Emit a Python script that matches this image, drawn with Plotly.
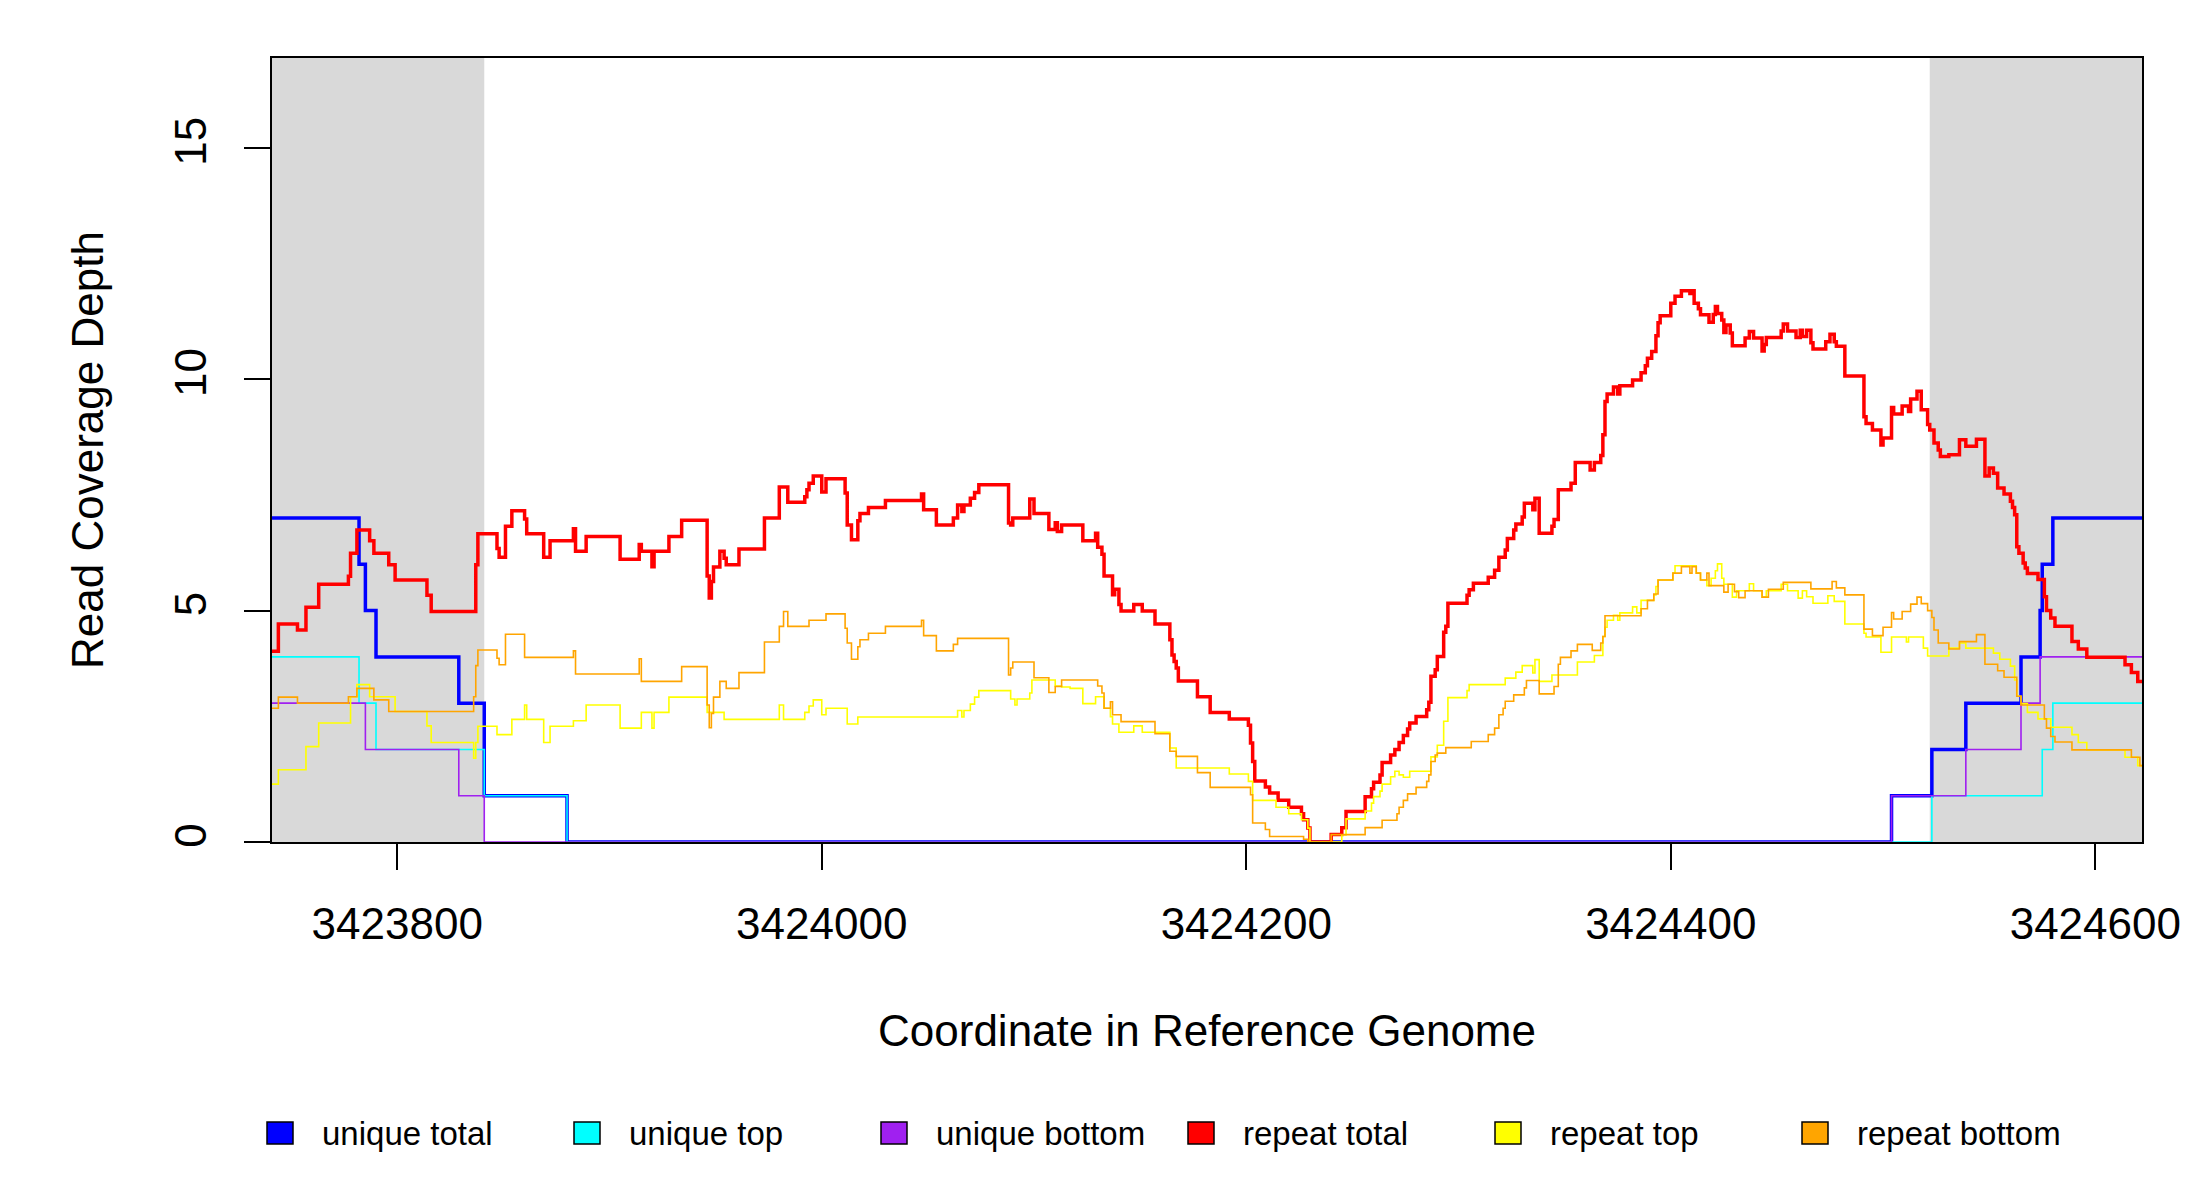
import plotly.graph_objects as go

# coverage steps: each value holds from its position up to the next position
region_start = 3423741
region_end = 3424622
flank_start = [3423741, 3424522]
flank_end = [3423841, 3424622]

ut_pos = [3423741, 3423782, 3423785, 3423790, 3423829, 3423841, 3423880,
          3424504, 3424523, 3424539, 3424565, 3424574, 3424575, 3424580]
ut_depth = [7, 6, 5, 4, 3, 1, 0, 1, 2, 3, 4, 5, 6, 7]

utop_pos = [3423741, 3423782, 3423790, 3423841, 3423880, 3424523, 3424575, 3424580]
utop_depth = [4, 3, 2, 1, 0, 1, 2, 3]

ubot_pos = [3423741, 3423785, 3423829, 3423841, 3424504, 3424539, 3424565, 3424574]
ubot_depth = [3, 2, 1, 0, 1, 2, 3, 4]

rt_pos = [3423741, 3423744, 3423753, 3423757, 3423763, 3423777, 3423778, 3423781,
          3423787, 3423789, 3423796, 3423799, 3423814, 3423816, 3423837, 3423838,
          3423847, 3423848, 3423851, 3423854, 3423860, 3423861, 3423869, 3423872,
          3423883, 3423884, 3423889, 3423905, 3423914, 3423915, 3423920, 3423921,
          3423928, 3423934, 3423946, 3423947, 3423948, 3423949, 3423952, 3423954,
          3423955, 3423961, 3423973, 3423980, 3423984, 3423992, 3423993, 3423994,
          3423996, 3424000, 3424002, 3424011, 3424012, 3424014, 3424017, 3424018,
          3424022, 3424030, 3424047, 3424048, 3424054, 3424062, 3424064, 3424066,
          3424067, 3424070, 3424072, 3424074, 3424088, 3424089, 3424090, 3424098,
          3424100, 3424107, 3424110, 3424111, 3424113, 3424123, 3424129, 3424130,
          3424132, 3424133, 3424137, 3424138, 3424140, 3424141, 3424147, 3424151,
          3424157, 3424164, 3424165, 3424166, 3424167, 3424168, 3424177, 3424183,
          3424192, 3424201, 3424202, 3424203, 3424204, 3424209, 3424211, 3424215,
          3424220, 3424226, 3424227, 3424229, 3424230, 3424240, 3424245, 3424247,
          3424256, 3424259, 3424260, 3424263, 3424264, 3424268, 3424270, 3424272,
          3424274, 3424276, 3424277, 3424280, 3424285, 3424286, 3424287, 3424289,
          3424290, 3424293, 3424294, 3424295, 3424304, 3424305, 3424307, 3424314,
          3424317, 3424319, 3424322, 3424323, 3424326, 3424327, 3424330, 3424331,
          3424335, 3424336, 3424338, 3424344, 3424345, 3424347, 3424353, 3424355,
          3424362, 3424364, 3424367, 3424368, 3424369, 3424370, 3424373, 3424375,
          3424376, 3424382, 3424386, 3424388, 3424389, 3424391, 3424393, 3424394,
          3424395, 3424400, 3424402, 3424405, 3424409, 3424410, 3424411, 3424413,
          3424414, 3424418, 3424420, 3424421, 3424422, 3424424, 3424425, 3424426,
          3424428, 3424429, 3424435, 3424437, 3424439, 3424443, 3424444, 3424445,
          3424452, 3424453, 3424455, 3424459, 3424461, 3424462, 3424464, 3424466,
          3424467, 3424473, 3424475, 3424477, 3424478, 3424482, 3424491, 3424492,
          3424495, 3424499, 3424500, 3424504, 3424505, 3424509, 3424512, 3424513,
          3424516, 3424518, 3424521, 3424522, 3424524, 3424526, 3424527, 3424531,
          3424536, 3424539, 3424544, 3424548, 3424550, 3424552, 3424554, 3424557,
          3424560, 3424561, 3424562, 3424563, 3424564, 3424566, 3424567, 3424568,
          3424573, 3424576, 3424577, 3424579, 3424581, 3424589, 3424592, 3424596,
          3424614, 3424617, 3424620]
rt_depth = [4.12, 4.71, 4.58, 5.07, 5.57, 5.74, 6.24, 6.74,
            6.51, 6.24, 5.99, 5.66, 5.33, 4.98, 5.99, 6.66,
            6.34, 6.15, 6.82, 7.16, 6.98, 6.66, 6.15, 6.51,
            6.77, 6.28, 6.6, 6.11, 6.43, 6.28, 5.95, 6.28,
            6.6, 6.95, 5.75, 5.27, 5.63, 5.94, 6.28, 6.13,
            5.99, 6.33, 7.0, 7.67, 7.34, 7.46, 7.61, 7.75,
            7.91, 7.56, 7.85, 7.54, 6.85, 6.53, 6.94, 7.1,
            7.23, 7.38, 7.52, 7.18, 6.85, 7.0, 7.28, 7.14,
            7.28, 7.43, 7.55, 7.72, 6.89, 6.85, 7.0, 7.41,
            7.1, 6.75, 6.9, 6.71, 6.85, 6.51, 6.67, 6.37,
            6.22, 5.75, 5.34, 5.46, 5.13, 4.99, 5.13, 4.99,
            4.71, 4.37, 4.04, 3.9, 3.76, 3.48, 3.14, 2.8,
            2.66, 2.52, 2.14, 1.74, 1.32, 1.19, 1.06, 0.9,
            0.75, 0.61, 0.48, 0.3, 0, 0.16, 0.31, 0.66,
            0.98, 1.15, 1.29, 1.45, 1.72, 1.88, 2.0, 2.15,
            2.3, 2.44, 2.57, 2.71, 2.86, 3.02, 3.58, 3.72,
            4.01, 4.53, 4.66, 5.16, 5.33, 5.45, 5.59, 5.72,
            5.87, 6.15, 6.31, 6.56, 6.74, 6.87, 7.02, 7.32,
            7.18, 7.43, 6.67, 6.82, 6.97, 7.61, 7.75, 8.2,
            8.04, 8.2, 8.35, 8.8, 9.52, 9.68, 9.83, 9.68,
            9.86, 9.98, 10.14, 10.29, 10.45, 10.6, 10.94, 11.22,
            11.37, 11.64, 11.79, 11.91, 11.85, 11.91, 11.64, 11.52,
            11.39, 11.23, 11.4, 11.57, 11.42, 11.28, 11.01, 11.17,
            11.0, 10.72, 10.89, 11.03, 10.89, 10.61, 10.75, 10.9,
            11.04, 11.19, 11.04, 10.9, 11.06, 10.92, 11.06, 10.79,
            10.65, 10.81, 10.97, 10.81, 10.71, 10.07, 9.19, 9.04,
            8.9, 8.58, 8.73, 9.39, 9.25, 9.42, 9.3, 9.57,
            9.74, 9.34, 9.02, 8.9, 8.62, 8.47, 8.33, 8.37,
            8.69, 8.55, 8.7, 7.91, 8.08, 7.97, 7.65, 7.52,
            7.36, 7.23, 7.07, 6.38, 6.24, 6.03, 5.92, 5.8,
            5.67, 5.3, 5.0, 4.84, 4.66, 4.33, 4.17, 3.99,
            3.83, 3.66, 3.47]

rtop_pos = [3423741, 3423744, 3423757, 3423763, 3423778, 3423781, 3423787, 3423799,
            3423814, 3423816, 3423836, 3423837, 3423838, 3423847, 3423854, 3423860,
            3423861, 3423869, 3423872, 3423883, 3423889, 3423905, 3423915, 3423920,
            3423921, 3423928, 3423946, 3423954, 3423980, 3423982, 3423992, 3423994,
            3423996, 3424000, 3424002, 3424012, 3424017, 3424064, 3424066, 3424067,
            3424070, 3424072, 3424074, 3424089, 3424091, 3424092, 3424098, 3424099,
            3424110, 3424113, 3424117, 3424123, 3424129, 3424133, 3424136, 3424137,
            3424140, 3424147, 3424151, 3424164, 3424167, 3424192, 3424201, 3424203,
            3424214, 3424220, 3424226, 3424229, 3424230, 3424245, 3424247, 3424256,
            3424259, 3424260, 3424263, 3424264, 3424268, 3424270, 3424272, 3424274,
            3424277, 3424287, 3424290, 3424293, 3424295, 3424304, 3424305, 3424322,
            3424327, 3424330, 3424335, 3424336, 3424338, 3424344, 3424356, 3424364,
            3424368, 3424369, 3424370, 3424373, 3424375, 3424376, 3424382, 3424384,
            3424386, 3424392, 3424393, 3424394, 3424401, 3424402, 3424412, 3424414,
            3424417, 3424419, 3424421, 3424422, 3424424, 3424425, 3424429, 3424431,
            3424437, 3424439, 3424443, 3424445, 3424452, 3424455, 3424460, 3424462,
            3424464, 3424467, 3424474, 3424477, 3424482, 3424491, 3424492, 3424499,
            3424504, 3424511, 3424512, 3424519, 3424521, 3424531, 3424536, 3424539,
            3424552, 3424555, 3424560, 3424562, 3424563, 3424565, 3424568, 3424573,
            3424579, 3424589, 3424592, 3424596, 3424614, 3424620]
rtop_depth = [1.25, 1.56, 2.06, 2.57, 3.14, 3.4, 3.14, 2.82,
              2.51, 2.15, 1.81, 2.15, 2.5, 2.32, 2.65, 2.96,
              2.65, 2.15, 2.5, 2.62, 2.96, 2.46, 2.8, 2.46,
              2.8, 3.13, 2.8, 2.65, 2.96, 2.65, 2.8, 2.94,
              3.07, 2.75, 2.89, 2.55, 2.7, 2.84, 2.7, 2.84,
              2.98, 3.13, 3.27, 3.09, 2.96, 3.09, 3.22, 3.5,
              3.37, 3.35, 3.32, 2.99, 3.14, 2.89, 2.71, 2.55,
              2.37, 2.51, 2.37, 2.03, 1.6, 1.47, 1.31, 0.9,
              0.75, 0.61, 0.48, 0.3, 0, 0.15, 0.5, 0.67,
              0.84, 0.98, 1.1, 1.25, 1.41, 1.53, 1.45, 1.4,
              1.53, 1.84, 2.09, 2.61, 3.12, 3.27, 3.4, 3.54,
              3.67, 3.81, 3.65, 3.94, 3.47, 3.61, 3.89, 4.03,
              4.44, 4.64, 4.79, 4.9, 4.79, 4.95, 5.08, 4.95,
              5.22, 5.34, 5.52, 5.66, 5.81, 5.97, 5.81, 5.66,
              5.54, 5.7, 5.86, 6.01, 5.7, 5.57, 5.29, 5.43,
              5.58, 5.43, 5.29, 5.43, 5.57, 5.43, 5.27, 5.43,
              5.3, 5.16, 5.32, 5.2, 4.71, 4.51, 4.43, 4.1,
              4.43, 4.32, 4.43, 4.19, 4.02, 4.19, 4.3, 4.19,
              4.08, 3.95, 3.8, 3.5, 3.15, 2.99, 2.8, 2.66,
              2.48, 2.32, 2.15, 1.99, 1.83, 1.65]

rbot_pos = [3423741, 3423744, 3423753, 3423777, 3423781, 3423789, 3423796, 3423836,
            3423837, 3423838, 3423847, 3423848, 3423851, 3423860, 3423883, 3423884,
            3423914, 3423915, 3423934, 3423946, 3423947, 3423948, 3423949, 3423952,
            3423955, 3423961, 3423973, 3423980, 3423982, 3423984, 3423994, 3424002,
            3424011, 3424012, 3424014, 3424017, 3424018, 3424022, 3424030, 3424047,
            3424048, 3424054, 3424062, 3424064, 3424088, 3424089, 3424090, 3424100,
            3424107, 3424110, 3424113, 3424130, 3424132, 3424133, 3424136, 3424137,
            3424141, 3424157, 3424164, 3424167, 3424177, 3424183, 3424202, 3424203,
            3424209, 3424211, 3424227, 3424229, 3424240, 3424256, 3424264, 3424271,
            3424272, 3424274, 3424276, 3424280, 3424285, 3424286, 3424287, 3424289,
            3424290, 3424294, 3424306, 3424314, 3424317, 3424319, 3424321, 3424322,
            3424326, 3424331, 3424332, 3424338, 3424345, 3424347, 3424348, 3424353,
            3424356, 3424363, 3424367, 3424368, 3424369, 3424386, 3424389, 3424392,
            3424394, 3424401, 3424405, 3424409, 3424410, 3424412, 3424414, 3424417,
            3424418, 3424425, 3424427, 3424430, 3424432, 3424435, 3424443, 3424446,
            3424453, 3424466, 3424476, 3424478, 3424482, 3424491, 3424495, 3424500,
            3424504, 3424505, 3424509, 3424513, 3424516, 3424518, 3424521, 3424523,
            3424524, 3424526, 3424531, 3424536, 3424544, 3424548, 3424554, 3424557,
            3424563, 3424565, 3424576, 3424577, 3424579, 3424581, 3424589, 3424617,
            3424621]
rbot_depth = [2.89, 3.13, 3.0, 3.14, 3.32, 3.07, 2.82, 3.14,
              3.81, 4.15, 3.97, 3.83, 4.49, 3.99, 4.13, 3.63,
              3.96, 3.47, 3.79, 2.96, 2.47, 2.78, 3.13, 3.47,
              3.32, 3.66, 4.32, 4.66, 4.98, 4.66, 4.79, 4.93,
              4.62, 4.3, 3.95, 4.22, 4.37, 4.51, 4.66, 4.79,
              4.46, 4.13, 4.27, 4.4, 3.61, 3.76, 3.89, 3.55,
              3.23, 3.36, 3.5, 3.37, 3.22, 2.89, 3.03, 2.75,
              2.6, 2.34, 1.96, 1.85, 1.5, 1.18, 1.02, 0.41,
              0.27, 0.12, 0.06, 0, 0.16, 0.31, 0.47, 0.61,
              0.75, 0.9, 1.04, 1.18, 1.31, 1.45, 1.74, 1.88,
              1.92, 2.04, 2.17, 2.32, 2.46, 2.75, 2.89, 3.04,
              3.18, 3.33, 3.49, 3.2, 3.36, 3.84, 3.99, 4.13,
              4.27, 4.14, 4.3, 4.44, 4.89, 5.04, 5.22, 5.36,
              5.66, 5.81, 5.95, 5.81, 5.95, 5.81, 5.66, 5.81,
              5.54, 5.4, 5.57, 5.41, 5.28, 5.43, 5.29, 5.46,
              5.61, 5.47, 5.63, 5.49, 5.34, 4.6, 4.46, 4.64,
              4.96, 4.82, 4.98, 5.14, 5.29, 5.15, 5.0, 4.85,
              4.58, 4.3, 4.17, 4.33, 4.48, 3.84, 3.7, 3.56,
              3.15, 2.96, 2.66, 2.46, 2.28, 2.16, 1.99, 1.83,
              1.65]

series = [
    ("unique total", ut_pos, ut_depth, "#0000FF", 3.5),
    ("unique top", utop_pos, utop_depth, "#00FFFF", 1.6),
    ("unique bottom", ubot_pos, ubot_depth, "#A020F0", 1.6),
    ("repeat total", rt_pos, rt_depth, "#FF0000", 3.5),
    ("repeat top", rtop_pos, rtop_depth, "#FFFF00", 1.6),
    ("repeat bottom", rbot_pos, rbot_depth, "#FFA500", 1.6),
]

FONT = "Liberation Sans, Arial, sans-serif"
W, H = 2200, 1200
ML, MR, MT, MB = 264, 66, 50, 366
PW, PH = W - ML - MR, H - MT - MB

fig = go.Figure()

for name, pos, depth, col, w in series:
    # close the last step at the end of the region
    xs = list(pos) + [region_end]
    ys = list(depth) + [depth[-1]]
    fig.add_trace(go.Scatter(x=xs, y=ys, mode="lines", line_shape="hv",
                             line=dict(color=col, width=w), name=name,
                             showlegend=False, hoverinfo="skip"))

for s, e in zip(flank_start, flank_end):
    fig.add_shape(type="rect", xref="x", yref="paper", x0=s, x1=e, y0=0, y1=1,
                  fillcolor="#D9D9D9", line_width=0, layer="below")

# legend row below the plot, R style filled boxes
leg_x0, leg_step, leg_y = 272, 307, 1125   # px, figure coords
box_w, box_h, text_gap = 26, 22, 40


def px(v):
    return (v - ML) / PW


def py(v):
    return (H - MB - v) / PH


for i, (name, pos, depth, col, w) in enumerate(series):
    cx = leg_x0 + i * leg_step
    fig.add_shape(type="rect", xref="paper", yref="paper",
                  x0=px(cx - box_w / 2), x1=px(cx + box_w / 2),
                  y0=py(leg_y + box_h / 2), y1=py(leg_y - box_h / 2),
                  fillcolor=col, line=dict(color="black", width=1.5))
    fig.add_annotation(xref="paper", yref="paper", x=px(cx + text_gap), y=py(leg_y),
                       text=name, showarrow=False, xanchor="left", yanchor="middle",
                       font=dict(size=33, family=FONT, color="black"))

fig.update_layout(
    width=W, height=H,
    margin=dict(l=ML, r=MR, t=MT, b=MB),
    paper_bgcolor="white", plot_bgcolor="white",
    font=dict(family=FONT, color="black"),
    showlegend=False,
)

fig.update_xaxes(
    range=[region_start, region_end], showgrid=False, zeroline=False,
    showline=True, mirror=True, linecolor="black", linewidth=2,
    ticks="outside", ticklen=26, tickwidth=2, tickcolor="black",
    tickvals=[3423800, 3424000, 3424200, 3424400, 3424600],
    ticktext=["3423800", "3424000", "3424200", "3424400", "3424600"],
    tickfont=dict(size=44), ticklabelstandoff=16,
    title=dict(text="Coordinate in Reference Genome", font=dict(size=44), standoff=68),
)
fig.update_yaxes(
    range=[0, 16.94], showgrid=False, zeroline=False,
    showline=True, mirror=True, linecolor="black", linewidth=2,
    ticks="outside", ticklen=26, tickwidth=2, tickcolor="black",
    tickvals=[0, 5, 10, 15], tickangle=-90,
    tickfont=dict(size=44), ticklabelstandoff=20,
    title=dict(text="Read Coverage Depth", font=dict(size=44), standoff=49),
)

fig.write_html("out.html")
